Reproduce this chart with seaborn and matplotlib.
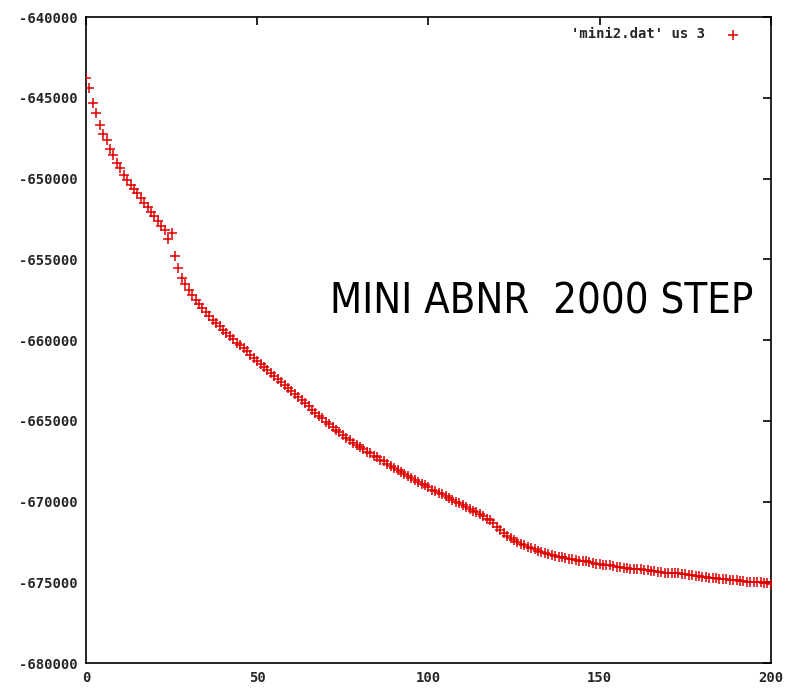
import numpy as np
import pandas as pd
import matplotlib
matplotlib.use("Agg")
import matplotlib.pyplot as plt
import seaborn as sns

# energy values, one per step (0..200)
steps = list(range(201))
energy = [
    -643750, -644400, -645300, -645950, -646650, -647250, -647600, -648150, -648550, -649050,
    -649350, -649800, -650100, -650400, -650650, -650900, -651200, -651500, -651750, -652050,
    -652300, -652600, -652900, -653200, -653750, -653350, -654800, -655550, -656150, -656550,
    -656900, -657200, -657500, -657750, -658000, -658250, -658500, -658750, -658950, -659150,
    -659350, -659550, -659750, -659950, -660150, -660300, -660500, -660700, -660900, -661100,
    -661300, -661450, -661650, -661850, -662050, -662250, -662400, -662600, -662800, -662950,
    -663150, -663350, -663550, -663700, -663900, -664100, -664300, -664500, -664700, -664850,
    -665050, -665200, -665350, -665550, -665700, -665850, -666050, -666200, -666350, -666500,
    -666600, -666750, -666900, -667000, -667150, -667250, -667400, -667500, -667650, -667800,
    -667900, -668050, -668150, -668300, -668400, -668550, -668650, -668800, -668900, -669000,
    -669100, -669250, -669350, -669450, -669550, -669650, -669800, -669900, -670000, -670100,
    -670200, -670350, -670450, -670550, -670650, -670750, -670900, -671050, -671150, -671350,
    -671550, -671750, -671950, -672100, -672250, -672400, -672500, -672600, -672700, -672800,
    -672900, -672950, -673050, -673100, -673200, -673250, -673300, -673350, -673400, -673450,
    -673500, -673550, -673550, -673600, -673650, -673700, -673700, -673750, -673800, -673850,
    -673850, -673900, -673950, -673950, -674000, -674050, -674050, -674100, -674100, -674150,
    -674150, -674200, -674200, -674250, -674250, -674300, -674300, -674350, -674350, -674400,
    -674400, -674400, -674450, -674450, -674500, -674500, -674550, -674550, -674600, -674600,
    -674650, -674650, -674700, -674750, -674750, -674800, -674800, -674800, -674850, -674850,
    -674850, -674900, -674900, -674950, -674950, -674950, -675000, -675000, -675050, -675050,
    -675100,
]
x_ticks = [0, 50, 100, 150, 200]
y_ticks = [-680000, -675000, -670000, -665000, -660000, -655000, -650000, -645000, -640000]
series_label = "'mini2.dat' us 3"
note = "MINI ABNR  2000 STEP"

df = pd.DataFrame({"step": steps, "energy": energy})

sns.set_theme(style="white")
plt.rcParams['font.family'] = ['DejaVu Sans']
plt.rcParams['axes.unicode_minus'] = False

fig = plt.figure(figsize=(7.89, 6.90), dpi=100)
ax = fig.add_axes([0.109, 0.039, 0.868, 0.936])

sns.scatterplot(data=df, x="step", y="energy", marker="+", color="#e00000",
                s=55, linewidth=1.1, ax=ax, label=series_label, zorder=3)

ax.set_xlim(0, 200)
ax.set_ylim(-680000, -640000)
ax.set_xticks(x_ticks)
ax.set_yticks(y_ticks)
ax.ticklabel_format(useOffset=False, style='plain')
ax.set_xlabel("")
ax.set_ylabel("")

for sp in ax.spines.values():
    sp.set_color("black")
    sp.set_linewidth(1.2)

ax.tick_params(direction="in", length=6, width=1.2, color="black",
               top=True, right=True, labelsize=10, pad=6)
for lab in ax.get_xticklabels() + ax.get_yticklabels():
    lab.set_fontfamily("DejaVu Sans Mono")
    lab.set_fontweight("bold")

leg = ax.legend(loc="upper right", bbox_to_anchor=(0.973, 0.993), frameon=False,
                markerfirst=False, borderaxespad=0,
                prop={"family": "DejaVu Sans Mono", "weight": "bold", "size": 10},
                handletextpad=1.0)

ax.text(0.666, 0.56, note, transform=ax.transAxes, ha="center", va="center",
        fontsize=30, fontstretch="condensed", color="black")

fig.savefig("out.png", dpi=100)
